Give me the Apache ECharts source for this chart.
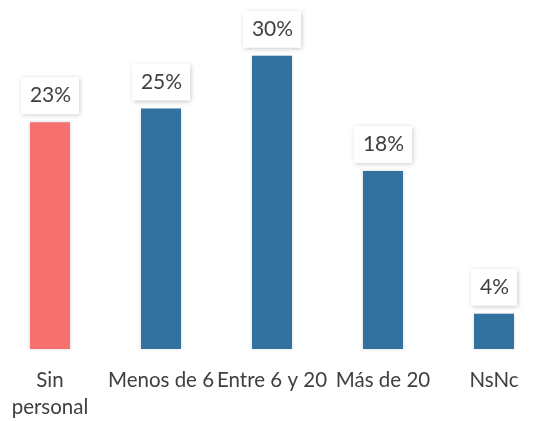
<!DOCTYPE html>
<html>
<head>
<meta charset="utf-8">
<script src="https://cdn.jsdelivr.net/npm/echarts@6/dist/echarts.min.js"></script>
<style>html,body{margin:0;padding:0;background:#fff;overflow:hidden;}#c{width:560px;height:421px;margin-left:-6px;}</style>
</head>
<body>
<div id="c"></div>
<script>
var categories = ["Sin\npersonal", "Menos de 6", "Entre 6 y 20", "Más de 20", "NsNc"];
var values = [23.2, 24.6, 30.0, 18.2, 3.6];
var labels = ["23%", "25%", "30%", "18%", "4%"];
var colors = ["#F77070", "#31729E", "#31729E", "#31729E", "#31729E"];

var chart = echarts.init(document.getElementById('c'));
chart.setOption({
  animation: false,
  grid: { left: 0.5, right: 4.5, top: 0, bottom: 71, containLabel: false },
  xAxis: {
    type: 'category',
    data: categories,
    axisLine: { show: false },
    axisTick: { show: false },
    axisLabel: {
      interval: 0,
      margin: 18,
      fontFamily: 'Lato',
      fontSize: 20.5,
      lineHeight: 27,
      color: '#404040'
    }
  },
  yAxis: {
    type: 'value',
    min: 0,
    max: 35.7,
    show: false,
    splitLine: { show: false }
  },
  series: [{
    type: 'bar',
    barWidth: 40,
    data: values.map(function (v, i) {
      return { value: v, itemStyle: { color: colors[i] } };
    }),
    itemStyle: {
      shadowBlur: 3,
      shadowColor: 'rgba(0,0,0,0.18)'
    },
    label: {
      show: true,
      position: 'top',
      distance: 8,
      formatter: function (p) { return labels[p.dataIndex]; },
      fontFamily: 'Lato',
      fontSize: 21,
      lineHeight: 21,
      color: '#404040',
      backgroundColor: '#fff',
      padding: [8, 8, 8, 9],
      shadowBlur: 5,
      shadowOffsetX: 1,
      shadowOffsetY: 1,
      shadowColor: 'rgba(0,0,0,0.25)'
    }
  }]
});
</script>
</body>
</html>
